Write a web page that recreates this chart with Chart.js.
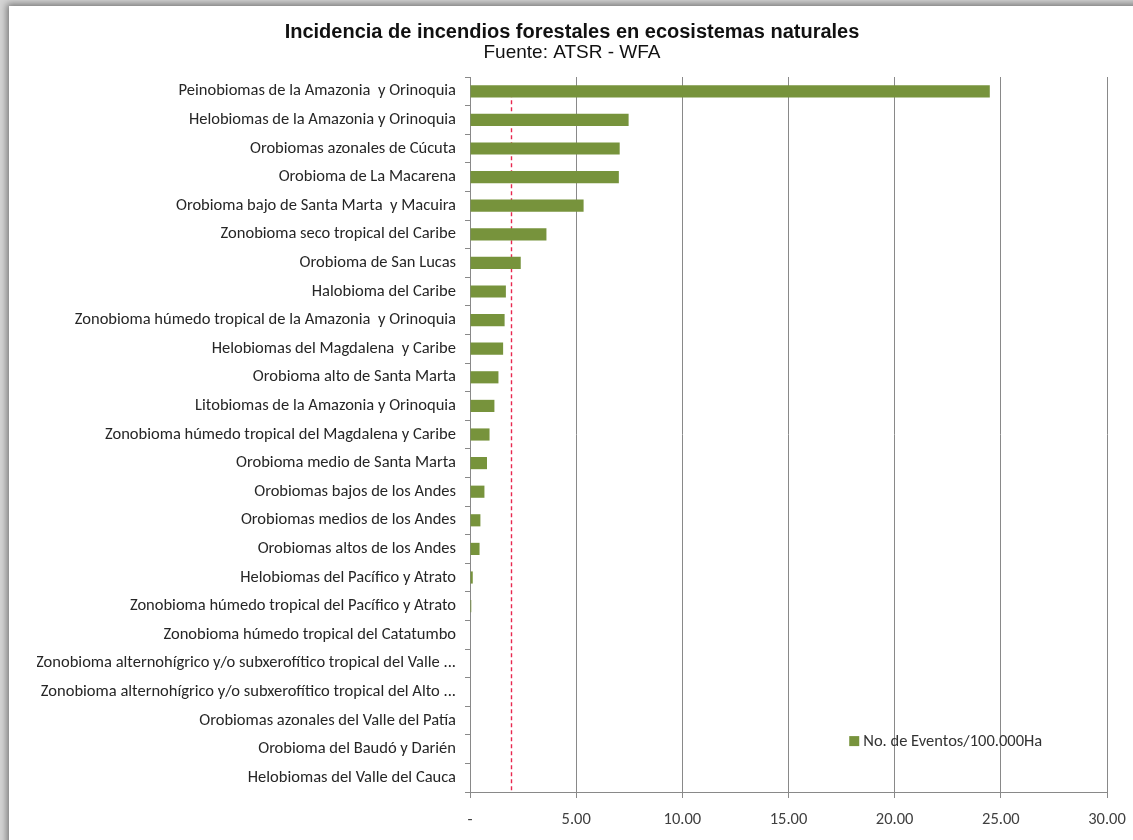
<!DOCTYPE html>
<html>
<head>
<meta charset="utf-8">
<script src="https://cdn.jsdelivr.net/npm/chart.js@4/dist/chart.umd.min.js"></script>
<style>
  html, body { margin: 0; padding: 0; width: 1133px; height: 840px; overflow: hidden; background: #d4d4d4; }
  .card { position: absolute; left: 9px; top: 6px; width: 1200px; height: 900px; background: #fff;
          box-shadow: 0 0 7px 2px rgba(0,0,0,0.45); }
  #chart { position: absolute; left: 0; top: 0; }
</style>
</head>
<body>
<div class="card"></div>
<canvas id="chart" width="1133" height="840"></canvas>
<script>
const categories = [
  'Peinobiomas de la Amazonia  y Orinoquia',
  'Helobiomas de la Amazonia y Orinoquia',
  'Orobiomas azonales de Cúcuta',
  'Orobioma de La Macarena',
  'Orobioma bajo de Santa Marta  y Macuira',
  'Zonobioma seco tropical del Caribe',
  'Orobioma de San Lucas',
  'Halobioma del Caribe',
  'Zonobioma húmedo tropical de la Amazonia  y Orinoquia',
  'Helobiomas del Magdalena  y Caribe',
  'Orobioma alto de Santa Marta',
  'Litobiomas de la Amazonia y Orinoquia',
  'Zonobioma húmedo tropical del Magdalena y Caribe',
  'Orobioma medio de Santa Marta',
  'Orobiomas bajos de los Andes',
  'Orobiomas medios de los Andes',
  'Orobiomas altos de los Andes',
  'Helobiomas del Pacífico y Atrato',
  'Zonobioma húmedo tropical del Pacífico y Atrato',
  'Zonobioma húmedo tropical del Catatumbo',
  'Zonobioma alternohígrico y/o subxerofítico tropical del Valle ...',
  'Zonobioma alternohígrico y/o subxerofítico tropical del Alto ...',
  'Orobiomas azonales del Valle del Patía',
  'Orobioma del Baudó y Darién',
  'Helobiomas del Valle del Cauca'
];
const eventos = [
  24.48, 7.47, 7.05, 7.01, 5.35, 3.60, 2.39, 1.69, 1.63, 1.56,
  1.34, 1.15, 0.92, 0.80, 0.68, 0.49, 0.45, 0.13, 0.06, 0,
  0, 0, 0, 0, 0
];
const xTicks = [0, 5, 10, 15, 20, 25, 30];
const umbral = 1.95;

const GREEN = '#77933c';
const GRID = '#898989';
const LABEL_FONT = 'Carlito, Lato, sans-serif';

// dashed reference line, drawn under the bars
const umbralLine = {
  id: 'umbralLine',
  beforeDatasetsDraw(chart) {
    const { ctx, chartArea, scales } = chart;
    const x = Math.round(scales.x.getPixelForValue(umbral)) + 0.5;
    const yTop = scales.y.getPixelForValue(0) + 2;
    ctx.save();
    ctx.strokeStyle = '#e8284f';
    ctx.lineWidth = 1.4;
    ctx.setLineDash([4, 3]);
    ctx.beginPath();
    ctx.moveTo(x, yTop);
    ctx.lineTo(x, chartArea.bottom);
    ctx.stroke();
    ctx.restore();
  }
};

// legend placed inside the plot, lower right
const innerLegend = {
  id: 'innerLegend',
  afterDraw(chart) {
    const { ctx, scales } = chart;
    const ds = chart.data.datasets[0];
    const x = scales.x.getPixelForValue(17.86);
    const y = scales.y.getPixelForValue(23) - 8;
    ctx.save();
    ctx.fillStyle = ds.backgroundColor;
    ctx.fillRect(x, y - 5, 10, 10);
    ctx.fillStyle = '#333';
    ctx.font = '16.5px ' + LABEL_FONT;
    ctx.textBaseline = 'middle';
    ctx.fillText(ds.label, x + 14, y + 1);
    ctx.restore();
  }
};

new Chart(document.getElementById('chart'), {
  type: 'bar',
  data: {
    labels: categories,
    datasets: [{
      label: 'No. de Eventos/100.000Ha',
      data: eventos,
      backgroundColor: GREEN,
      borderWidth: 0,
      barPercentage: 0.85,
      categoryPercentage: 0.5
    }]
  },
  options: {
    indexAxis: 'y',
    responsive: false,
    animation: false,
    layout: { padding: { left: 37, right: 26, top: 0, bottom: 0 } },
    plugins: {
      legend: { display: false },
      tooltip: { enabled: false },
      title: {
        display: true,
        text: 'Incidencia de incendios forestales en ecosistemas naturales',
        color: '#111',
        font: { family: 'Liberation Sans, Arial, sans-serif', size: 20, weight: 'bold', lineHeight: 1 },
        padding: { top: 22, bottom: 0 }
      },
      subtitle: {
        display: true,
        text: 'Fuente: ATSR - WFA',
        color: '#111',
        font: { family: 'Liberation Sans, Arial, sans-serif', size: 19, lineHeight: 1 },
        padding: { top: 1, bottom: 15 }
      }
    },
    scales: {
      x: {
        min: 0,
        max: 30,
        afterBuildTicks: (s) => { s.ticks = xTicks.map(v => ({ value: v })); },
        afterFit: (s) => { s.height = 48; s.paddingRight = 0; s.paddingLeft = 0; },
        grid: { color: GRID, lineWidth: 1, tickLength: 6 },
        border: { color: GRID },
        ticks: {
          color: '#404040',
          padding: 12,
          font: { family: LABEL_FONT, size: 16.5 },
          callback: (v) => v === 0 ? '-' : Number(v).toFixed(2)
        }
      },
      y: {
        afterFit: (s) => { s.width = 433; },
        grid: { drawOnChartArea: false, color: GRID, tickLength: 5, offset: true },
        border: { color: GRID },
        ticks: {
          color: '#262626',
          padding: 9,
          autoSkip: false,
          font: { family: LABEL_FONT, size: 16.5 }
        }
      }
    }
  },
  plugins: [umbralLine, innerLegend]
});
</script>
</body>
</html>
